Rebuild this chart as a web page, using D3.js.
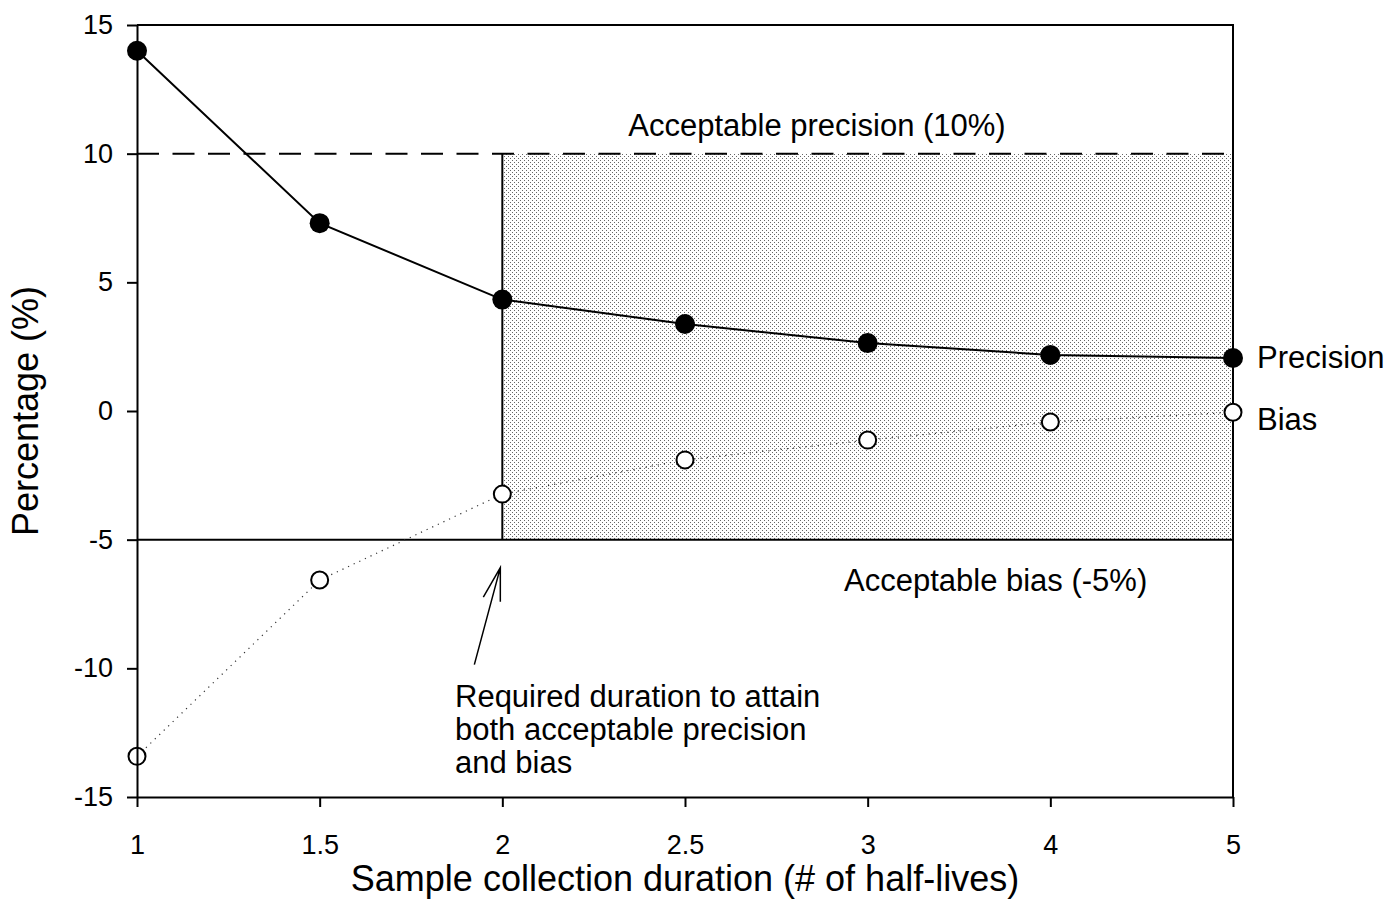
<!DOCTYPE html>
<html>
<head>
<meta charset="utf-8">
<script src="https://cdn.jsdelivr.net/npm/d3@7"></script>
<style>
  html, body { margin: 0; padding: 0; background: #fff; }
  svg { display: block; font-family: "Liberation Sans", Arial, sans-serif; }
</style>
</head>
<body>
<svg id="chart" width="1390" height="919"></svg>
<script>
// Sample collection duration (number of half-lives), shown as evenly spaced categories
const durations = ["1", "1.5", "2", "2.5", "3", "4", "5"];
// Precision (%) of the estimate at each duration
const precision = [14.0, 7.3, 4.33, 3.38, 2.64, 2.18, 2.06];
// Bias (%) of the estimate at each duration
const bias = [-13.42, -6.57, -3.23, -1.9, -1.13, -0.43, -0.05];
// Y axis ticks
const yTicks = [-15, -10, -5, 0, 5, 10, 15];
// Acceptance thresholds
const precisionLimit = 10;
const biasLimit = -5;
const requiredDuration = "2";

const svg = d3.select("#chart");
const W = 1390, H = 919;
const margin = { left: 137, right: 157, top: 25, bottom: 122 };
const x0 = margin.left, x1 = W - margin.right;
const y0 = margin.top, y1 = H - margin.bottom;

const x = d3.scalePoint().domain(durations).range([x0, x1]).padding(0);
const y = d3.scaleLinear().domain([-15, 15]).range([y1, y0]);

svg.append("rect").attr("width", W).attr("height", H).attr("fill", "#fff");

// Stipple fill for the acceptable region
const defs = svg.append("defs");
const pat = defs.append("pattern")
  .attr("id", "stipple").attr("patternUnits", "userSpaceOnUse")
  .attr("width", 4).attr("height", 4);
pat.append("rect").attr("width", 4).attr("height", 4).attr("fill", "#fff");
pat.append("rect").attr("x", 0).attr("y", 0).attr("width", 1).attr("height", 1).attr("fill", "#666");
pat.append("rect").attr("x", 2).attr("y", 2).attr("width", 1).attr("height", 1).attr("fill", "#666");

svg.append("rect")
  .attr("x", x(requiredDuration)).attr("y", y(precisionLimit))
  .attr("width", x(durations[durations.length - 1]) - x(requiredDuration))
  .attr("height", y(biasLimit) - y(precisionLimit))
  .attr("fill", "url(#stipple)");

// Plot frame (top and right)
svg.append("path")
  .attr("d", `M${x0},${y0}H${x1}V${y1}`)
  .attr("fill", "none").attr("stroke", "#000").attr("stroke-width", 2);

// Precision limit (dashed)
svg.append("line")
  .attr("x1", x0).attr("x2", x1)
  .attr("y1", y(precisionLimit)).attr("y2", y(precisionLimit))
  .attr("stroke", "#000").attr("stroke-width", 2)
  .attr("stroke-dasharray", "22,13.5");

// Bias limit (solid)
svg.append("line")
  .attr("x1", x0).attr("x2", x1)
  .attr("y1", y(biasLimit)).attr("y2", y(biasLimit))
  .attr("stroke", "#000").attr("stroke-width", 2);

// Left edge of the acceptable region
svg.append("line")
  .attr("x1", x(requiredDuration)).attr("x2", x(requiredDuration))
  .attr("y1", y(precisionLimit)).attr("y2", y(biasLimit))
  .attr("stroke", "#000").attr("stroke-width", 2);

// Series lines
const line = d3.line().x((d, i) => x(durations[i])).y(d => y(d));

svg.append("path")
  .datum(bias)
  .attr("d", line)
  .attr("fill", "none").attr("stroke", "#333").attr("stroke-width", 1.2)
  .attr("stroke-dasharray", "1.2,5");

svg.append("path")
  .datum(precision)
  .attr("d", line)
  .attr("fill", "none").attr("stroke", "#000").attr("stroke-width", 2);

// Markers
svg.append("g").selectAll("circle")
  .data(bias).join("circle")
  .attr("cx", (d, i) => x(durations[i])).attr("cy", d => y(d))
  .attr("r", 8.5).attr("fill", "#fff").attr("stroke", "#000").attr("stroke-width", 2);

svg.append("g").selectAll("circle")
  .data(precision).join("circle")
  .attr("cx", (d, i) => x(durations[i])).attr("cy", d => y(d))
  .attr("r", 10).attr("fill", "#000");

// Axes
const yAxis = d3.axisLeft(y).tickValues(yTicks).tickFormat(d => String(d))
  .tickSize(10).tickSizeOuter(0).tickPadding(14);
const gy = svg.append("g").attr("transform", `translate(${x0},0)`).call(yAxis);

const xAxis = d3.axisBottom(x).tickSize(10).tickSizeOuter(0);
const gx = svg.append("g").attr("transform", `translate(0,${y1})`).call(xAxis);

[gy, gx].forEach(g => {
  g.selectAll("path, line").attr("stroke", "#000").attr("stroke-width", 2);
  g.selectAll("text").attr("fill", "#000").attr("font-size", 27)
    .attr("font-family", "'Liberation Sans', Arial, sans-serif");
});
gx.selectAll("text").attr("y", 57).attr("dy", 0);

// Axis titles
svg.append("text")
  .attr("x", (x0 + x1) / 2).attr("y", 891)
  .attr("text-anchor", "middle").attr("font-size", 36)
  .text("Sample collection duration (# of half-lives)");

svg.append("text")
  .attr("transform", `translate(38,${(y0 + y1) / 2}) rotate(-90)`)
  .attr("text-anchor", "middle").attr("font-size", 36)
  .text("Percentage (%)");

// Threshold labels
svg.append("text")
  .attr("x", 817).attr("y", y(precisionLimit) - 18)
  .attr("text-anchor", "middle").attr("font-size", 31)
  .text("Acceptable precision (10%)");

svg.append("text")
  .attr("x", 844).attr("y", y(biasLimit) + 51)
  .attr("font-size", 31)
  .text("Acceptable bias (-5%)");

// Series labels at the right end
const last = durations.length - 1;
svg.append("text")
  .attr("x", x(durations[last]) + 24).attr("y", y(precision[last]) + 10)
  .attr("font-size", 31).text("Precision");
svg.append("text")
  .attr("x", x(durations[last]) + 24).attr("y", y(bias[last]) + 18)
  .attr("font-size", 31).text("Bias");

// Annotation arrow pointing at the required duration
const tip = [x(requiredDuration) - 2, y(biasLimit) + 28];
const tail = [x(requiredDuration) - 28, y(biasLimit) + 125];
const ang = Math.atan2(tail[1] - tip[1], tail[0] - tip[0]);
const headLen = 34, headAng = 15 * Math.PI / 180;
const b1 = [tip[0] + headLen * Math.cos(ang - headAng), tip[1] + headLen * Math.sin(ang - headAng)];
const b2 = [tip[0] + headLen * Math.cos(ang + headAng), tip[1] + headLen * Math.sin(ang + headAng)];
svg.append("path")
  .attr("d", `M${tail}L${tip}M${b1}L${tip}L${b2}`)
  .attr("fill", "none").attr("stroke", "#000").attr("stroke-width", 1.5);

const note = ["Required duration to attain", "both acceptable precision", "and bias"];
svg.append("text")
  .attr("font-size", 31)
  .selectAll("tspan").data(note).join("tspan")
  .attr("x", 455).attr("y", (d, i) => 707 + i * 33)
  .text(d => d);
</script>
</body>
</html>
